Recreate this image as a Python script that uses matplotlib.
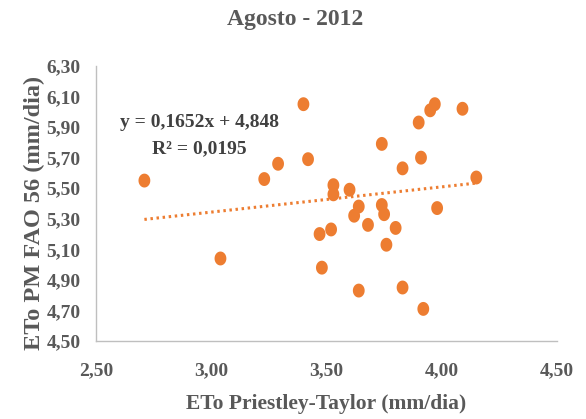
import numpy as np
import matplotlib
matplotlib.use("Agg")
import matplotlib.pyplot as plt
from matplotlib.path import Path

# Daily ETo values for August 2012 (mm/dia)
eto_pt = [2.71, 3.04, 3.23, 3.29, 3.40, 3.42, 3.47, 3.48, 3.52, 3.53, 3.53,
          3.60, 3.62, 3.64, 3.64, 3.68, 3.74, 3.74, 3.75, 3.76, 3.80, 3.83,
          3.83, 3.90, 3.91, 3.92, 3.95, 3.97, 3.98, 4.09, 4.15]
eto_pm = [5.55, 5.04, 5.56, 5.66, 6.05, 5.69, 5.20, 4.98, 5.23, 5.52, 5.46,
          5.49, 5.32, 5.38, 4.83, 5.26, 5.79, 5.39, 5.33, 5.13, 5.24, 5.63,
          4.85, 5.93, 5.70, 4.71, 6.01, 6.05, 5.37, 6.02, 5.57]

# Linear trend reported on the chart
slope = 0.1652
intercept = 4.848
r2 = 0.0195

x_ticks = [2.50, 3.00, 3.50, 4.00, 4.50]
y_ticks = [4.50, 4.70, 4.90, 5.10, 5.30, 5.50, 5.70, 5.90, 6.10, 6.30]

title = "Agosto - 2012"
x_label = "ETo Priestley-Taylor (mm/dia)"
y_label = "ETo PM FAO 56 (mm/dia)"

orange = "#ED7D31"
grey_text = "#595959"
axis_grey = "#BFBFBF"
serif = ["Liberation Serif", "DejaVu Serif"]

def fmt(v):
    return f"{v:.2f}".replace(".", ",")

# slightly tall elliptical marker
t = np.linspace(0, 2 * np.pi, 60)
ellipse = Path(np.column_stack([0.85 * np.cos(t), np.sin(t)]), closed=True)

fig = plt.figure(figsize=(5.86, 4.19), dpi=100)
ax = fig.add_axes([0.1638, 0.1862, 0.9505 - 0.1638, 0.8425 - 0.1862])

ax.scatter(eto_pt, eto_pm, s=100, marker=ellipse, color=orange,
           edgecolors="none", zorder=3)

xt = np.array([min(eto_pt), max(eto_pt)])
ax.plot(xt, slope * xt + intercept, color=orange, linewidth=2.2,
        linestyle=(0, (0.8, 1.2)), dash_capstyle="butt", zorder=2)

ax.set_xlim(x_ticks[0], x_ticks[-1])
ax.set_ylim(y_ticks[0], y_ticks[-1])
ax.set_xticks(x_ticks)
ax.set_yticks(y_ticks)
ax.set_xticklabels([fmt(v) for v in x_ticks])
ax.set_yticklabels([fmt(v) for v in y_ticks])
ax.tick_params(length=0, labelsize=14, labelcolor=grey_text)
ax.tick_params(axis="x", pad=15)
ax.tick_params(axis="y", pad=11)
for lab in ax.get_xticklabels() + ax.get_yticklabels():
    lab.set_family(serif)
    lab.set_fontweight("bold")

for side in ("top", "right"):
    ax.spines[side].set_visible(False)
for side in ("left", "bottom"):
    ax.spines[side].set_color(axis_grey)
    ax.spines[side].set_linewidth(1.0)

# axis titles placed in figure coordinates
fig.text(326 / 586, 1 - 404 / 419, x_label, ha="center", va="center",
         fontsize=15.5, fontweight="bold", family=serif, color=grey_text)
fig.text(34 / 586, 1 - 213 / 419, y_label, ha="center", va="center",
         rotation=90, fontsize=17.5, fontweight="bold", family=serif,
         color=grey_text)

fig.text(295 / 586, 1 - 20 / 419, title, ha="center", va="center",
         fontsize=17, fontweight="bold", family=serif, color=grey_text)

eq = f"y = {slope:.4f}x + {intercept:.3f}".replace(".", ",")
r2_txt = f"R² = {r2:.4f}".replace(".", ",")
ax.text(0.225, 0.795, eq, transform=ax.transAxes, ha="center", va="center",
        fontsize=14, fontweight="bold", family=serif, color="#404040")
ax.text(0.225, 0.70, r2_txt, transform=ax.transAxes, ha="center", va="center",
        fontsize=14, fontweight="bold", family=serif, color="#404040")

fig.savefig("out.png", dpi=100)
